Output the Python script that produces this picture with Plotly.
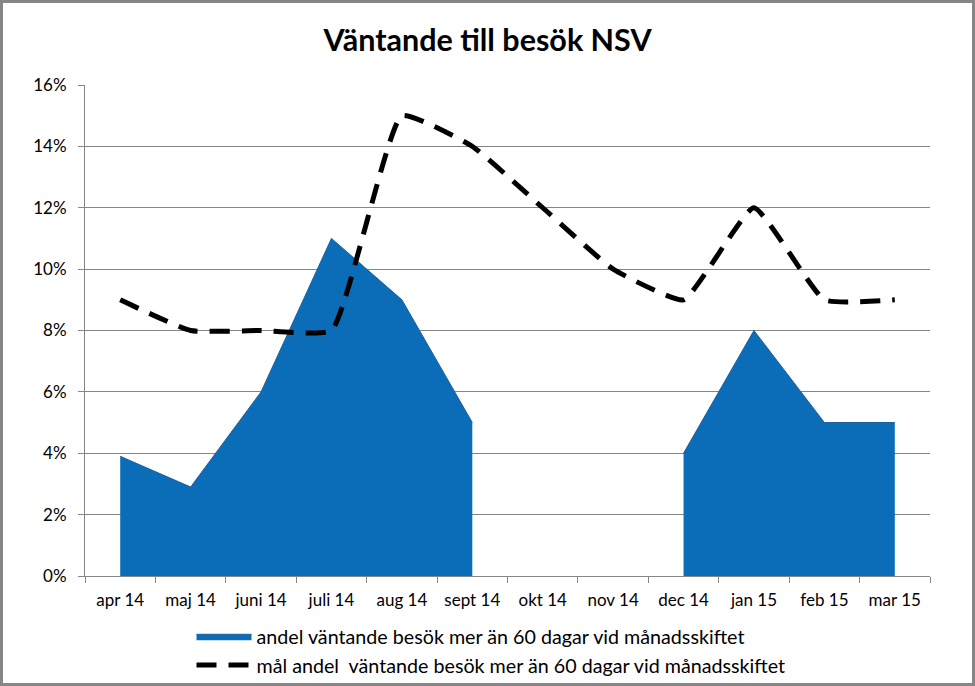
import plotly.graph_objects as go

categories = ["apr 14", "maj 14", "juni 14", "juli 14", "aug 14", "sept 14",
              "okt 14", "nov 14", "dec 14", "jan 15", "feb 15", "mar 15"]
andel = [3.9, 2.9, 6.0, 11.0, 9.0, 5.0, None, None, 4.0, 8.0, 5.0, 5.0]
mal = [9.0, 8.0, 8.0, 8.0, 15.0, 14.0, 12.0, 10.0, 9.0, 12.0, 9.0, 9.0]
ytick_vals = [0, 2, 4, 6, 8, 10, 12, 14, 16]
ytick_text = ["0%", "2%", "4%", "6%", "8%", "10%", "12%", "14%", "16%"]

name_area = "andel väntande besök mer än 60 dagar vid månadsskiftet"
name_line = "mål andel  väntande besök mer än 60 dagar vid månadsskiftet"

W, H = 975, 686
ML, MR, MT, MB = 85, 45, 85, 110
PW, PH = W - ML - MR, H - MT - MB

# split the area series into contiguous segments (gaps where value is None)
segments = []
cur = []
for c, v in zip(categories, andel):
    if v is None:
        if cur:
            segments.append(cur)
        cur = []
    else:
        cur.append((c, v))
if cur:
    segments.append(cur)

fig = go.Figure()
for i, seg in enumerate(segments):
    fig.add_trace(go.Scatter(
        x=[s[0] for s in seg], y=[s[1] for s in seg],
        name=name_area, legendgroup="andel", showlegend=(i == 0),
        mode="lines", fill="tozeroy", fillcolor="#0B6DB8",
        line=dict(color="#1B5E9C", width=1),
    ))
fig.add_trace(go.Scatter(
    x=categories, y=mal, name=name_line, mode="lines",
    line=dict(color="black", width=5, dash="20px,12px", shape="spline", smoothing=0.4),
))

def px_x(p):
    return (p - ML) / PW

def px_y(p):
    return (H - MB - p) / PH

fig.add_shape(type="rect", xref="paper", yref="paper",
              x0=px_x(1.5), x1=px_x(W - 1.5), y0=px_y(H - 1.5), y1=px_y(1.5),
              line=dict(color="#868686", width=3), fillcolor="rgba(0,0,0,0)", layer="above")

fig.update_layout(
    width=W, height=H, autosize=False,
    margin=dict(l=ML, r=MR, t=MT, b=MB, autoexpand=False),
    paper_bgcolor="white", plot_bgcolor="white",
    font=dict(family="Lato, Open Sans, sans-serif", size=17, color="black"),
    title=dict(text="<b>Väntande till besök NSV</b>", x=0.5, xanchor="center",
               y=1 - 40 / H, yanchor="middle",
               font=dict(family="Lato, Open Sans, sans-serif", size=30.5, color="black")),
    showlegend=True,
    legend=dict(orientation="v", xref="container", yref="container",
                x=491 / W, xanchor="center", y=1 - 617 / H, yanchor="top",
                font=dict(size=19.7), itemwidth=55, tracegroupgap=0,
                bgcolor="rgba(0,0,0,0)"),
)
fig.update_xaxes(
    type="category", categoryorder="array", categoryarray=categories,
    range=[-0.5, len(categories) - 0.5],
    showline=True, linecolor="#868686", linewidth=1,
    ticks="outside", tickson="boundaries", ticklen=6, tickcolor="#868686",
    ticklabelstandoff=9,
    showgrid=False, tickfont=dict(size=17), automargin=False,
)
fig.update_yaxes(
    range=[0, 16], tickvals=ytick_vals, ticktext=ytick_text,
    showline=True, linecolor="#868686", linewidth=1,
    ticks="outside", ticklen=6, tickcolor="#868686",
    ticklabelstandoff=8,
    showgrid=True, gridcolor="#868686", gridwidth=1,
    zeroline=False, tickfont=dict(size=17), automargin=False,
)

fig.write_html("out.html", config={"displayModeBar": False},
               post_script="document.body.style.margin='0';document.body.style.overflow='hidden';")
